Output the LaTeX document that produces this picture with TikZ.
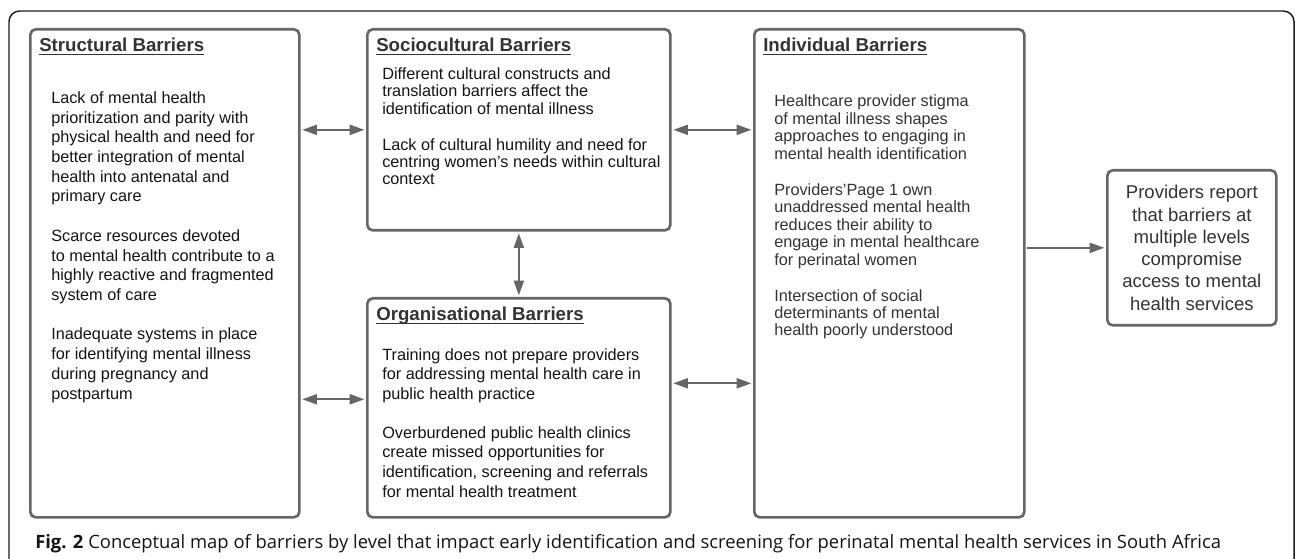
\documentclass[tikz,border=0pt]{standalone}
\usepackage{fontspec}
\setmainfont{Liberation Sans}
\newfontfamily\capfont{Open Sans}
\usetikzlibrary{arrows.meta,calc}
\definecolor{linegray}{HTML}{666666}
\definecolor{titlegray}{HTML}{333333}
\definecolor{bodyblack}{HTML}{141414}
\definecolor{framegray}{HTML}{1A1A1A}
\newcommand{\ttlu}[1]{\setbox0\hbox{#1}\rlap{\rule[-2.2pt]{\wd0}{0.9pt}}\box0}
\begin{document}
\begin{tikzpicture}[x=0.75pt,y=-0.75pt,
  box/.style={draw=linegray, line width=2pt, rounded corners=4pt, inner sep=0pt, anchor=north west},
  ttl/.style={anchor=base west, inner sep=0pt, font=\fontsize{14}{16}\selectfont\bfseries, text=titlegray},
  body/.style={anchor=base west, inner sep=0pt, align=left, text=bodyblack},
  tip/.tip={Triangle[length=11pt,width=7.5pt]},
  conn/.style={draw=linegray, line width=1.5pt, shorten <=1.2pt, shorten >=1.2pt},
]
\useasboundingbox (0,0) rectangle (1295,559);
% outer frame
\draw[framegray, line width=1.1pt, rounded corners=8pt] (9,620) -- (9,11) -- (1294,11) -- (1294,620);

% boxes
\node[box, minimum width=201.75pt, minimum height=366pt] (struct) at (29,28) {};
\node[box, minimum width=227.25pt, minimum height=150.75pt] (socio) at (366,28) {};
\node[box, minimum width=227.25pt, minimum height=164.25pt] (org) at (366,297) {};
\node[box, minimum width=202.5pt, minimum height=366pt] (indiv) at (753,28) {};
\node[box, minimum width=126.75pt, minimum height=116.25pt, align=center, text=titlegray,
      font=\fontsize{13.9}{16.7}\selectfont] (prov) at (1106,169)
  {Providers report\\that barriers at\\multiple levels\\compromise\\access to mental\\health services};

% titles
\node[ttl] (structT) at (39,52) {\ttlu{Structural Barriers}};
\node[ttl] (socioT) at (376,52) {\ttlu{Sociocultural Barriers}};
\node[ttl] (orgT) at (376,321) {\ttlu{Organisational Barriers}};
\node[ttl] (indivT) at (763,52) {\ttlu{Individual Barriers}};

% body texts (anchored at the baseline of their last line)
\node[body, font=\fontsize{12.2}{14.78}\selectfont] (structB) at (51,399)
  {Lack of mental health\\prioritization and parity with\\physical health and need for\\better integration of mental\\health into antenatal and\\primary care\\[14.78pt]
   Scarce resources devoted\\to mental health contribute to a\\highly reactive and fragmented\\system of care\\[14.78pt]
   Inadequate systems in place\\for identifying mental illness\\during pregnancy and\\postpartum};
\node[body, font=\fontsize{12.2}{13.1}\selectfont] (socioB) at (382,185)
  {Different cultural constructs and\\translation barriers affect the\\identification of mental illness\\[13.9pt]
   Lack of cultural humility and need for\\centring women’s needs within cultural\\context};
\node[body, font=\fontsize{12.2}{14.7}\selectfont] (orgB) at (382,497)
  {Training does not prepare providers\\for addressing mental health care in\\public health practice\\[14.55pt]
   Overburdened public health clinics\\create missed opportunities for\\identification, screening and referrals\\for mental health treatment};
\node[body, font=\fontsize{12.2}{13.1}\selectfont, text=titlegray] (indivB) at (774,336)
  {Healthcare provider stigma\\of mental illness shapes\\approaches to engaging in\\mental health identification\\[13.9pt]
   Providers'Page 1 own\\unaddressed mental health\\reduces their ability to\\engage in mental healthcare\\for perinatal women\\[13.9pt]
   Intersection of social\\determinants of mental\\health poorly understood};

% connector end points
\coordinate (orgW) at ([yshift=6.4pt]org.west);
\coordinate (orgE) at ([yshift=18.4pt]org.east);

% connectors
\draw[conn, tip-tip] (struct.east |- socio.west) -- (socio.west);
\draw[conn, tip-tip] (struct.east |- orgW) -- (orgW);
\draw[conn, tip-tip] (socio.south) -- (org.north);
\draw[conn, tip-tip] (socio.east) -- (socio.east -| indiv.west);
\draw[conn, tip-tip] (orgE) -- (indiv.west |- orgE);
\draw[conn, -tip] (indiv.east |- prov.west) -- (prov.west);

% caption
\node[anchor=base west, inner sep=0pt, font=\capfont\fontsize{13.8}{16}\selectfont, text=bodyblack] (cap) at (35,548)
  {\textbf{Fig. 2} Conceptual map of barriers by level that impact early identification and screening for perinatal mental health services in South Africa};
\end{tikzpicture}
\end{document}
